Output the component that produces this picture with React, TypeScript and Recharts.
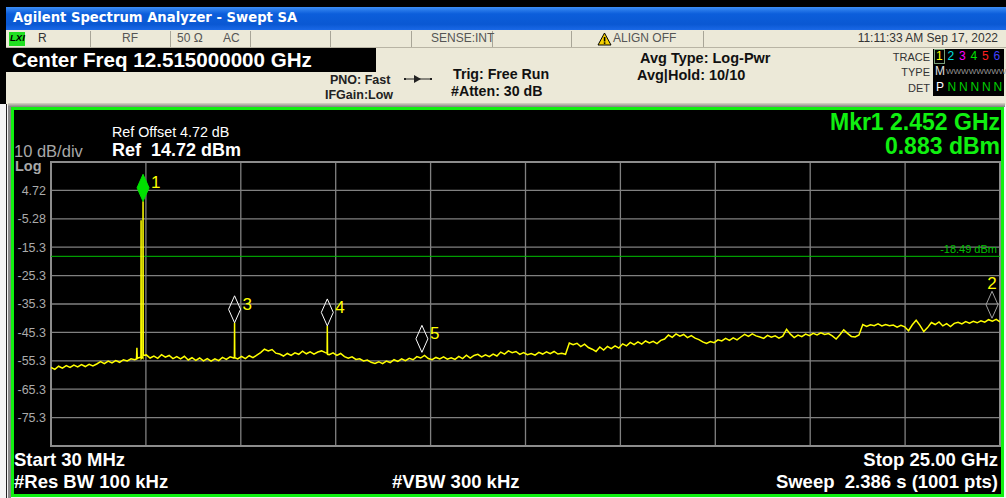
import React from 'react';
import {
  LineChart, Line, XAxis, YAxis, CartesianGrid, ReferenceLine, ReferenceDot, ReferenceArea,
} from 'recharts';

// sweep: 30 MHz .. 25 GHz, trace (dBm)
const freqStartGHz = 0.03;
const freqStopGHz = 25.0;

const traceDbm = [
  -57.6, -58.3, -57.2, -57.9, -57.0, -57.6, -56.8, -57.4, -56.6, -57.3,
  -56.5, -57.1, -56.4, -55.6, -56.3, -55.4, -56.0, -55.2, -55.8, -54.9,
  -55.3, -54.6, -54.9, -54.2, -54.0, -53.2, -54.3, -53.6, -54.4, -53.1,
  -54.0, -53.4, -54.5, -53.8, -54.6, -53.7, -55.0, -54.2, -55.1, -54.3,
  -55.3, -54.5, -55.4, -54.6, -55.2, -54.1, -54.8, -53.9, -54.3, -54.6,
  -53.7, -54.5, -53.5, -54.2, -53.3, -52.4, -51.2, -51.8, -51.3, -52.6,
  -52.9, -53.6, -52.7, -53.4, -52.5, -53.0, -51.9, -52.8, -52.1, -52.9,
  -52.2, -51.8, -52.4, -53.1, -52.5, -53.4, -52.7, -53.8, -54.4, -53.9,
  -54.8, -54.6, -55.3, -55.0, -55.8, -56.2, -55.6, -56.3, -55.4, -55.9,
  -54.9, -55.5, -54.6, -55.2, -54.4, -54.9, -53.8, -54.3, -53.4, -54.5,
  -54.9, -54.1, -54.6, -53.9, -54.7, -54.2, -54.8, -53.7, -54.5, -53.3,
  -54.3, -53.4, -53.0, -53.9, -53.2, -53.8, -52.9, -53.6, -52.2, -52.9,
  -51.8, -52.4, -52.0, -53.0, -52.4, -53.1, -52.7, -53.3, -52.3, -52.9,
  -52.1, -52.8, -52.0, -52.9, -52.6, -53.0, -49.0, -49.6, -49.1, -50.3,
  -49.4, -50.6, -51.2, -52.0, -50.4, -51.5, -50.2, -51.0, -50.0, -50.8,
  -49.3, -50.0, -48.8, -49.6, -48.6, -49.4, -48.3, -49.0, -48.4, -49.2,
  -48.1, -47.6, -46.2, -47.0, -45.8, -46.6, -46.0, -47.1, -46.4, -47.3,
  -47.8, -48.6, -49.2, -48.5, -48.9, -47.9, -48.3, -47.4, -48.1, -47.2,
  -47.9, -46.9, -46.0, -46.7, -45.8, -46.5, -46.9, -47.4, -46.3, -47.0,
  -46.5, -47.3, -46.6, -44.2, -45.9, -47.1, -46.2, -46.8, -45.9, -46.4,
  -45.6, -46.2, -45.4, -46.0, -45.7, -46.5, -47.6, -46.1, -44.4, -45.6,
  -46.7, -46.9, -46.2, -42.5, -43.2, -42.6, -42.9, -42.3, -43.0, -42.5,
  -42.9, -42.7, -43.4, -42.8, -43.3, -44.7, -42.6, -41.0, -42.8, -45.0,
  -43.6, -41.8, -42.5, -41.6, -43.0, -42.2, -43.2, -42.1, -41.7, -42.3,
  -41.5, -42.0, -41.4, -41.9, -41.2, -41.7, -40.8, -41.3, -40.7, -41.6,
];

// narrow carriers / harmonics sitting between sweep points
const spikeFreqs = [2.28, 2.29, 2.3, 2.396, 2.4, 2.405, 2.448, 2.452, 2.457, 4.855, 4.86, 4.866, 7.295, 7.3, 7.306];
const spikeDbm = [-54.6, -50.7, -54.5, -54.0, -5.8, -54.5, -54.2, 0.883, -53.4, -54.0, -41.9, -54.2, -52.6, -43.0, -53.0];

const markerIds = ['1', '3', '4', '5', '2'];
const markerFreqs = [2.452, 4.86, 7.3, 9.79, 24.79];
const markerDbm = [0.883, -41.9, -43.0, -52.3, -40.3];

const displayLineDbm = -18.49;

const refLevel = 14.72;
const yTicks = [14.72, 4.72, -5.28, -15.28, -25.28, -35.28, -45.28, -55.28, -65.28, -75.28, -85.28];
const yTickLabels = ['', '4.72', '-5.28', '-15.3', '-25.3', '-35.3', '-45.3', '-55.3', '-65.3', '-75.3', ''];
const xGridTicks = [0.03, 2.527, 5.024, 7.521, 10.018, 12.515, 15.012, 17.509, 20.006, 22.503, 25.0];

const stepGHz = (freqStopGHz - freqStartGHz) / (traceDbm.length - 1);
const sweep = [
  ...traceDbm.map((v, i) => ({ f: freqStartGHz + i * stepGHz, dbm: v })),
  ...spikeFreqs.map((f, i) => ({ f, dbm: spikeDbm[i] })),
].sort((a, b) => a.f - b.f);

const SANS = '"Liberation Sans", Arial, sans-serif';

function T({ x, y, right, size = 12, color = '#000', bold = false, italic = false, tight = false, children, family = SANS }: any) {
  const style: React.CSSProperties = {
    position: 'absolute',
    top: y - size * (tight ? 0.5 : 0.58),
    fontSize: size,
    lineHeight: tight ? '1em' : '1.15em',
    fontFamily: family,
    fontWeight: bold ? 700 : 400,
    fontStyle: italic ? 'italic' : 'normal',
    color,
    whiteSpace: 'pre',
  };
  if (right !== undefined) style.right = 1006 - right;
  else style.left = x;
  return <div style={style}>{children}</div>;
}

function MarkerGlyph({ cx, cy, id }: any) {
  const active = id === '1';
  const edge = id === '2';
  const w = 6;
  const h = 27;
  const pts = `${cx},${cy} ${cx - w},${cy - h / 2} ${cx},${cy - h} ${cx + w},${cy - h / 2}`;
  return (
    <g>
      <polygon
        points={pts}
        fill={active ? '#00E000' : 'none'}
        stroke={active ? '#00E000' : edge ? '#A0A0A0' : '#FFFFFF'}
        strokeWidth={1}
      />
      <text
        x={edge ? cx : cx + 8}
        y={edge ? cy - h - 2 : cy - h + 14}
        textAnchor={edge ? 'middle' : 'start'}
        fill="#FFFF00"
        fontSize={17}
        fontFamily={SANS}
      >
        {id}
      </text>
    </g>
  );
}

const traceColors = ['#FFFF00', '#00E0E0', '#FF00FF', '#00E000', '#FF2020', '#4040FF'];

export default function App() {
  return (
    <div style={{ position: 'fixed', left: 0, top: 0, width: 1006, height: 498, background: '#F4F4F4', overflow: 'hidden', fontFamily: SANS }}>
      <style>{'body{margin:0}'}</style>
      {/* window chrome */}
      <div style={{ position: 'absolute', left: 0, top: 0, width: 1006, height: 7, background: '#000' }} />
      <div style={{ position: 'absolute', left: 0, top: 0, width: 6, height: 104, background: '#000' }} />
      <div
        style={{
          position: 'absolute', left: 6, top: 7, width: 1000, height: 23,
          background: 'linear-gradient(#3C8DF5 0%, #0C5EDB 30%, #0A58D3 75%, #1A68E6 100%)',
        }}
      />
      <T x={13} y={18} size={13.2} color="#FFFFFF" bold family='"DejaVu Sans", sans-serif'>Agilent Spectrum Analyzer - Swept SA</T>

      {/* status bar */}
      <div style={{ position: 'absolute', left: 6, top: 30, width: 1000, height: 75, background: '#ECE9D8' }} />
      <div style={{ position: 'absolute', left: 6, top: 47, width: 1000, height: 1, background: '#B8B4A4' }} />
      {[90, 170, 250, 330, 411, 492, 571, 703].map((x) => (
        <div key={x} style={{ position: 'absolute', left: x, top: 31, width: 1, height: 16, background: '#A8A597' }} />
      ))}
      <div style={{ position: 'absolute', left: 9, top: 32, width: 16, height: 14, background: '#22E022' }} />
      <T x={10} y={39} size={9.5} bold italic color="#000">LXI</T>
      <T x={38} y={39} size={12} color="#333">R</T>
      <T x={122} y={39} size={12} color="#555">RF</T>
      <T x={177} y={39} size={12} color="#555">50 Ω</T>
      <T x={223} y={39} size={12} color="#555">AC</T>
      <T x={431} y={39} size={12} color="#555">SENSE:INT</T>
      <svg style={{ position: 'absolute', left: 597, top: 32 }} width={15} height={14}>
        <polygon points="7.5,1 14,13 1,13" fill="#F5D000" stroke="#000" strokeWidth={1} />
        <rect x={6.8} y={5} width={1.6} height={4.5} fill="#000" />
        <rect x={6.8} y={10.3} width={1.6} height={1.6} fill="#000" />
      </svg>
      <T x={613} y={39} size={12} color="#555">ALIGN OFF</T>
      <T right={998} y={39} size={12} color="#333">11:11:33 AM Sep 17, 2022</T>

      {/* setup header */}
      <div style={{ position: 'absolute', left: 6, top: 48, width: 370, height: 24, background: '#000' }} />
      <T x={12} y={60} size={20.6} bold color="#FFFFFF">Center Freq 12.515000000 GHz</T>
      <T x={330} y={80} size={12.5} bold color="#222">PNO: Fast</T>
      <T x={325} y={95} size={12.5} bold color="#222">IFGain:Low</T>
      <svg style={{ position: 'absolute', left: 404, top: 74 }} width={28} height={10}>
        <line x1={1} y1={5} x2={27} y2={5} stroke="#222" strokeWidth={1} />
        <polygon points="10,1 17,5 10,9" fill="#222" />
        <rect x={0} y={4} width={2} height={2} fill="#222" />
        <rect x={26} y={4} width={2} height={2} fill="#222" />
      </svg>
      <T x={453} y={74} size={14.2} bold color="#111">Trig: Free Run</T>
      <T x={451} y={91} size={14.2} bold color="#111">#Atten: 30 dB</T>
      <T x={640} y={58} size={14.5} bold color="#111">Avg Type: Log-Pwr</T>
      <T x={637} y={75} size={14.5} bold color="#111">Avg|Hold: 10/10</T>
      <T right={930} y={57} size={11} color="#333">TRACE</T>
      <T right={930} y={72} size={11} color="#333">TYPE</T>
      <T right={930} y={88} size={11} color="#333">DET</T>
      <div style={{ position: 'absolute', left: 933, top: 49, width: 71, height: 47, background: '#000' }} />
      <div style={{ position: 'absolute', left: 934, top: 49, width: 11, height: 15, border: '1px solid #7AA07A', boxSizing: 'border-box' }} />
      {traceColors.map((c, i) => (
        <T key={i} x={936 + i * 11.5} y={57} size={12} color={c}>{String(i + 1)}</T>
      ))}
      <T x={935} y={72} size={12} color="#E0E0E0">M</T>
      <T x={946} y={72} size={8} color="#9A9A9A">WWWWWWWW</T>
      <T x={936} y={88} size={12} color="#FFFFFF">P</T>
      {[0, 1, 2, 3, 4].map((i) => (
        <T key={i} x={947.5 + i * 11.5} y={88} size={12} color="#00D000">N</T>
      ))}

      {/* display frame */}
      <div style={{ position: 'absolute', left: 6, top: 104, width: 1, height: 394, background: '#222' }} />
      <div style={{ position: 'absolute', left: 8, top: 103, width: 997, height: 4, background: 'linear-gradient(#D8D4C4, #808080)' }} />
      <div style={{ position: 'absolute', left: 8, top: 106, width: 3, height: 392, background: '#8A8A8A' }} />
      <div
        style={{
          position: 'absolute', left: 11, top: 107, width: 993, height: 390,
          border: '3px solid #10F010', boxSizing: 'border-box', background: '#000',
        }}
      />

      <T x={112} y={132} size={14.3} color="#FFFFFF">Ref Offset 4.72 dB</T>
      <T x={112} y={150} size={18} bold color="#FFFFFF">Ref  14.72 dBm</T>
      <T x={14} y={151} size={16.5} tight color="#A8A8A8">10 dB/div</T>
      <T x={15} y={166.5} size={14.5} tight bold color="#A8A8A8">Log</T>
      <T right={1000} y={122} size={23} bold color="#10F010">Mkr1 2.452 GHz</T>
      <T right={1000} y={146} size={23} bold color="#10F010">0.883 dBm</T>

      <T x={14} y={460} size={18.5} bold color="#FFFFFF">Start 30 MHz</T>
      <T x={14} y={482} size={18.5} bold color="#FFFFFF">#Res BW 100 kHz</T>
      <T x={392} y={482} size={18.5} bold color="#FFFFFF">#VBW 300 kHz</T>
      <T right={998} y={460} size={18.5} bold color="#FFFFFF">Stop 25.00 GHz</T>
      <T right={998} y={482} size={18.5} bold color="#FFFFFF">Sweep  2.386 s (1001 pts)</T>

      <div style={{ position: 'absolute', left: 0, top: 0 }}>
        <LineChart width={1006} height={498} data={sweep} margin={{ top: 162, right: 6, bottom: 52, left: 11 }}>
          <CartesianGrid stroke="#808080" strokeWidth={1.3} />
          <XAxis
            dataKey="f"
            type="number"
            domain={[freqStartGHz, freqStopGHz]}
            ticks={xGridTicks}
            allowDataOverflow
            hide
          />
          <YAxis
            type="number"
            domain={[-85.28, refLevel]}
            ticks={yTicks}
            allowDataOverflow
            width={40}
            axisLine={false}
            tickLine={false}
            tickSize={0}
            tickMargin={5}
            interval={0}
            tickFormatter={(v: number) => yTickLabels[yTicks.indexOf(v)] ?? ''}
            tick={{ fill: '#ABABAB', fontSize: 12.5, fontFamily: SANS }}
          />
          <ReferenceArea
            x1={freqStartGHz}
            x2={freqStopGHz}
            y1={-85.28}
            y2={refLevel}
            fill="none"
            stroke="#8C8C8C"
            strokeWidth={2}
          />
          <ReferenceLine
            y={displayLineDbm}
            stroke="#00C000"
            strokeWidth={1}
            label={{ value: '-18.49 dBm', position: 'insideBottomRight', fill: '#00C000', fontSize: 11, fontFamily: SANS, offset: 3 }}
          />
          <Line
            type="linear"
            dataKey="dbm"
            stroke="#FFFF00"
            strokeWidth={1.5}
            dot={false}
            isAnimationActive={false}
          />
          {markerIds.map((id, i) => (
            <ReferenceDot
              key={id}
              x={markerFreqs[i]}
              y={markerDbm[i]}
              r={0}
              ifOverflow="visible"
              shape={(p: any) => <MarkerGlyph cx={p.cx} cy={p.cy} id={id} />}
            />
          ))}
        </LineChart>
      </div>
    </div>
  );
}
